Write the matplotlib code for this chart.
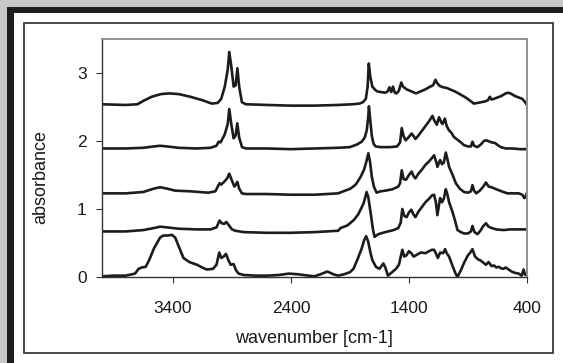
import matplotlib
matplotlib.use('Agg')
import matplotlib.pyplot as plt
from matplotlib.patches import Rectangle

plt.rcParams['font.family'] = ['Liberation Sans', 'DejaVu Sans']

# Trace 1 (top)
wn_1 = [4000, 3800, 3700, 3650, 3580, 3500, 3430, 3350, 3250, 3150,
        3070, 3020, 2990, 2960, 2935, 2922, 2905, 2885, 2868, 2853,
        2838, 2815, 2780, 2600, 2400, 2200, 2000, 1880, 1820, 1790,
        1765, 1750, 1740, 1728, 1710, 1690, 1670, 1640, 1600, 1580,
        1565, 1550, 1535, 1520, 1505, 1485, 1465, 1450, 1420, 1380,
        1340, 1300, 1260, 1220, 1195, 1175, 1160, 1140, 1110, 1080,
        1040, 1000, 960, 920, 880, 850, 820, 790, 760, 730,
        715, 700, 680, 650, 620, 580, 555, 530, 500, 470,
        440, 420, 400]
abs_1 = [2.54, 2.53, 2.54, 2.59, 2.65, 2.69, 2.70, 2.69, 2.65, 2.60,
         2.55, 2.56, 2.62, 2.80, 3.05, 3.31, 3.10, 2.80, 2.82, 3.07,
         2.80, 2.57, 2.54, 2.53, 2.52, 2.52, 2.53, 2.54, 2.55, 2.57,
         2.62, 2.80, 3.14, 2.95, 2.80, 2.76, 2.73, 2.72, 2.71, 2.73,
         2.79, 2.72, 2.80, 2.71, 2.70, 2.74, 2.86, 2.80, 2.76, 2.73,
         2.70, 2.73, 2.76, 2.80, 2.82, 2.90, 2.85, 2.81, 2.79, 2.78,
         2.75, 2.72, 2.68, 2.64, 2.59, 2.55, 2.56, 2.57, 2.58, 2.60,
         2.65, 2.61, 2.62, 2.64, 2.66, 2.70, 2.71, 2.69, 2.66, 2.64,
         2.62, 2.58, 2.53]

# Trace 2
wn_2 = [4000, 3800, 3650, 3560, 3508, 3450, 3350, 3200, 3080, 3030,
        3012, 2995, 2960, 2935, 2922, 2905, 2885, 2868, 2854, 2838,
        2814, 2780, 2600, 2400, 2200, 2000, 1900, 1838, 1800, 1775,
        1758, 1745, 1739, 1730, 1715, 1700, 1682, 1640, 1560, 1500,
        1475, 1461, 1445, 1428, 1400, 1377, 1360, 1345, 1320, 1290,
        1260, 1230, 1201, 1185, 1164, 1145, 1125, 1115, 1096, 1080,
        1062, 1040, 1020, 990, 960, 935, 900, 875, 862, 848,
        820, 790, 765, 748, 730, 700, 670, 640, 621, 580,
        520, 460, 400]
abs_2 = [1.89, 1.89, 1.90, 1.92, 1.93, 1.92, 1.90, 1.89, 1.90, 1.93,
         1.99, 1.98, 2.10, 2.25, 2.47, 2.25, 2.04, 2.08, 2.26, 2.05,
         1.91, 1.89, 1.89, 1.88, 1.89, 1.90, 1.91, 1.95, 1.99, 2.05,
         2.15, 2.35, 2.51, 2.35, 2.08, 1.96, 1.92, 1.91, 1.91, 1.92,
         1.98, 2.19, 2.07, 2.01, 2.06, 2.11, 2.07, 2.03, 2.08, 2.15,
         2.22, 2.29, 2.37, 2.30, 2.24, 2.35, 2.27, 2.25, 2.33, 2.22,
         2.16, 2.12, 2.06, 2.02, 1.98, 1.94, 1.92, 1.92, 1.99, 1.93,
         1.91, 1.95, 2.00, 2.01, 2.00, 1.98, 1.97, 1.93, 1.91, 1.89,
         1.89, 1.88, 1.88]

# Trace 3
wn_3 = [4000, 3800, 3650, 3560, 3508, 3450, 3380, 3250, 3100, 3040,
        3004, 2990, 2965, 2940, 2922, 2900, 2879, 2865, 2854, 2838,
        2815, 2780, 2600, 2400, 2200, 2000, 1895, 1850, 1810, 1780,
        1760, 1744, 1730, 1715, 1697, 1674, 1640, 1600, 1540, 1490,
        1475, 1461, 1445, 1425, 1400, 1377, 1360, 1345, 1320, 1290,
        1260, 1230, 1205, 1187, 1170, 1159, 1136, 1120, 1105, 1088,
        1075, 1060, 1030, 1003, 970, 933, 900, 875, 862, 848,
        830, 800, 770, 748, 725, 700, 660, 600, 564, 520,
        470, 440, 423, 410, 400]
abs_3 = [1.23, 1.23, 1.25, 1.30, 1.32, 1.30, 1.27, 1.26, 1.24, 1.26,
         1.38, 1.36, 1.40, 1.45, 1.52, 1.42, 1.33, 1.36, 1.40, 1.30,
         1.23, 1.22, 1.22, 1.21, 1.21, 1.23, 1.30, 1.36, 1.47, 1.58,
         1.70, 1.82, 1.70, 1.48, 1.33, 1.24, 1.26, 1.27, 1.29, 1.33,
         1.38, 1.57, 1.44, 1.43, 1.50, 1.55, 1.48, 1.45, 1.52, 1.58,
         1.65, 1.70, 1.75, 1.79, 1.70, 1.62, 1.72, 1.66, 1.68, 1.83,
         1.74, 1.62, 1.50, 1.38, 1.30, 1.25, 1.24, 1.26, 1.35, 1.27,
         1.23, 1.27, 1.33, 1.39, 1.33, 1.32, 1.29, 1.25, 1.23, 1.23,
         1.23, 1.21, 1.16, 1.19, 1.24]

# Trace 4
wn_4 = [4000, 3800, 3650, 3560, 3508, 3450, 3350, 3200, 3080, 3030,
        3004, 2985, 2965, 2947, 2925, 2899, 2870, 2800, 2600, 2400,
        2200, 2000, 1979, 1920, 1866, 1830, 1810, 1785, 1770, 1759,
        1745, 1725, 1705, 1691, 1660, 1600, 1530, 1490, 1470, 1456,
        1440, 1420, 1400, 1380, 1362, 1345, 1320, 1290, 1260, 1230,
        1205, 1187, 1172, 1159, 1136, 1120, 1105, 1088, 1075, 1060,
        1030, 1005, 989, 960, 933, 900, 875, 862, 845, 819,
        795, 770, 748, 725, 700, 660, 600, 540, 480, 440,
        400]
abs_4 = [0.67, 0.67, 0.69, 0.72, 0.74, 0.73, 0.71, 0.70, 0.70, 0.73,
         0.83, 0.79, 0.78, 0.81, 0.76, 0.70, 0.68, 0.66, 0.65, 0.65,
         0.66, 0.68, 0.72, 0.76, 0.84, 0.92, 0.99, 1.08, 1.17, 1.25,
         1.18, 0.95, 0.70, 0.59, 0.63, 0.66, 0.69, 0.72, 0.80, 1.00,
         0.90, 0.88, 0.95, 0.99, 0.92, 0.88, 0.96, 1.03, 1.10, 1.15,
         1.20, 1.21, 1.10, 0.91, 1.16, 1.10, 1.15, 1.29, 1.22, 1.10,
         0.95, 0.80, 0.69, 0.66, 0.64, 0.64, 0.67, 0.75, 0.66, 0.63,
         0.68, 0.75, 0.79, 0.74, 0.72, 0.70, 0.69, 0.70, 0.70, 0.70,
         0.70]

# Trace 5 (bottom)
wn_5 = [4000, 3900, 3800, 3720, 3690, 3663, 3630, 3600, 3560, 3508,
        3480, 3440, 3408, 3380, 3350, 3310, 3260, 3196, 3140, 3111,
        3060, 3030, 3007, 2990, 2970, 2950, 2930, 2910, 2885, 2865,
        2843, 2800, 2700, 2600, 2500, 2418, 2340, 2250, 2200, 2150,
        2092, 2064, 2040, 2000, 1950, 1900, 1870, 1838, 1800, 1780,
        1762, 1745, 1725, 1710, 1680, 1650, 1617, 1600, 1578, 1550,
        1510, 1485, 1456, 1440, 1420, 1400, 1380, 1360, 1330, 1300,
        1260, 1230, 1205, 1187, 1170, 1155, 1135, 1110, 1094, 1080,
        1060, 1030, 1005, 989, 960, 930, 900, 880, 862, 840,
        815, 790, 770, 748, 725, 700, 680, 660, 640, 621,
        600, 580, 555, 530, 500, 470, 445, 429, 415, 400]
abs_5 = [0.01, 0.02, 0.02, 0.05, 0.12, 0.14, 0.15, 0.25, 0.42, 0.58,
         0.61, 0.61, 0.62, 0.58, 0.45, 0.28, 0.22, 0.18, 0.13, 0.11,
         0.12, 0.18, 0.36, 0.28, 0.30, 0.34, 0.25, 0.18, 0.19, 0.10,
         0.05, 0.03, 0.02, 0.02, 0.03, 0.05, 0.04, 0.02, 0.01, 0.04,
         0.08, 0.06, 0.04, 0.02, 0.04, 0.07, 0.12, 0.25, 0.42, 0.54,
         0.60, 0.52, 0.35, 0.25, 0.15, 0.12, 0.20, 0.14, 0.02, 0.06,
         0.12, 0.18, 0.40, 0.30, 0.32, 0.38, 0.35, 0.30, 0.33, 0.36,
         0.35, 0.38, 0.40, 0.40, 0.34, 0.28, 0.36, 0.35, 0.41, 0.35,
         0.30, 0.16, 0.05, 0.00, 0.10, 0.22, 0.32, 0.36, 0.41, 0.30,
         0.26, 0.24, 0.21, 0.18, 0.22, 0.16, 0.17, 0.14, 0.15, 0.13,
         0.12, 0.14, 0.11, 0.08, 0.06, 0.05, 0.02, 0.11, 0.03, 0.04]

traces = [(wn_1, abs_1), (wn_2, abs_2), (wn_3, abs_3), (wn_4, abs_4), (wn_5, abs_5)]
for w, a in traces:
    assert len(w) == len(a)

x_ticks = [3400, 2400, 1400, 400]
y_ticks = [0, 1, 2, 3]

W, H = 563, 363
fig = plt.figure(figsize=(W / 100, H / 100), dpi=100)
fig.patch.set_facecolor('#c8c8c8')

# black frame (top + left), white card, thin inner border
fig.patches.append(Rectangle((7 / W, -0.1), 1.2, (H - 7) / H + 0.1,
                             transform=fig.transFigure, facecolor='#1e1c1c',
                             edgecolor='none', zorder=-3))
fig.patches.append(Rectangle((14 / W, -0.1), 1.2, (H - 13) / H + 0.1,
                             transform=fig.transFigure, facecolor='white',
                             edgecolor='none', zorder=-2))
fig.patches.append(Rectangle((24 / W, 10 / H), 529 / W, 330 / H,
                             transform=fig.transFigure, facecolor='none',
                             edgecolor='#3a3a3a', linewidth=1.3, zorder=-1))

ax = fig.add_axes([102 / W, (H - 277) / H, 425 / W, 238 / H])
ax.set_facecolor('white')

for w, a in traces:
    ax.plot(w, a, color='#1c1c1c', linewidth=1.9, solid_joinstyle='round')

ax.set_xlim(4000, 400)
ax.set_ylim(0, 3.5)
ax.set_xticks(x_ticks)
ax.set_yticks(y_ticks)
ax.tick_params(axis='both', labelsize=12.5, length=4, width=0.8,
               color='#333333', labelcolor='#1a1a1a')
ax.tick_params(axis='x', pad=13)
ax.tick_params(axis='y', pad=7)

for side in ('left', 'bottom'):
    ax.spines[side].set_color('#333333')
    ax.spines[side].set_linewidth(1.0)
for side in ('top', 'right'):
    ax.spines[side].set_color('#909090')
    ax.spines[side].set_linewidth(1.4)

ax.set_xlabel('wavenumber [cm-1]', fontsize=13, color='#1a1a1a')
ax.set_ylabel('absorbance', fontsize=13, color='#1a1a1a')
ax.xaxis.set_label_coords(0.499, -0.222)
ax.yaxis.set_label_coords(-0.125, 0.42)

fig.savefig('out.png', dpi=100, facecolor=fig.get_facecolor())
